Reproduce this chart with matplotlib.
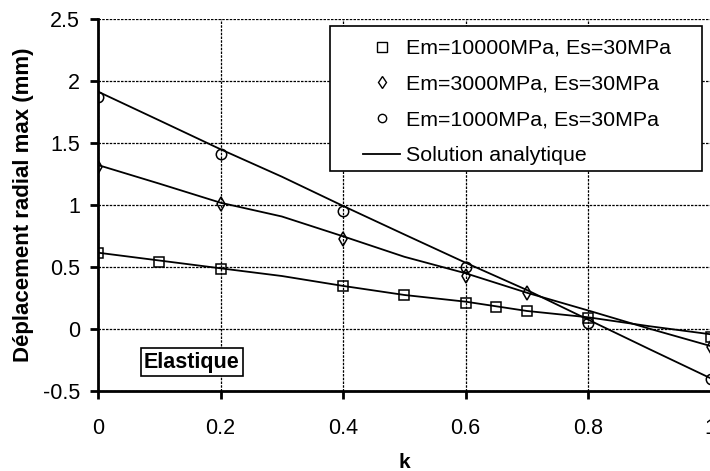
#!/usr/bin/env python3
"""deplacement radial max vs k, cas elastique"""
import matplotlib
matplotlib.use('Agg')
import matplotlib.pyplot as plt
from matplotlib.lines import Line2D
from matplotlib.patches import Rectangle

plt.rcParams['font.family'] = ['Liberation Sans', 'DejaVu Sans']

# points numeriques
k_sq = [0, 0.1, 0.2, 0.4, 0.5, 0.6, 0.65, 0.7, 0.8, 1.0]
u_sq = [0.608, 0.54, 0.479, 0.344, 0.272, 0.21, 0.177, 0.145, 0.084, -0.065]
k_di = [0, 0.2, 0.4, 0.6, 0.7, 1.0]
u_di = [1.306, 1.006, 0.723, 0.427, 0.285, -0.145]
k_ci = [0, 0.2, 0.4, 0.6, 0.8, 1.0]
u_ci = [1.866, 1.406, 0.952, 0.495, 0.043, -0.408]

# solution analytique
k_an = [0, 0.1, 0.2, 0.3, 0.4, 0.5, 0.6, 0.7, 0.8, 0.9, 1.0]
an_sq = [0.613, 0.55, 0.487, 0.425, 0.345, 0.272, 0.218, 0.143, 0.092, 0.02, -0.045]
an_di = [1.32, 1.17, 1.016, 0.905, 0.745, 0.58, 0.447, 0.29, 0.147, 0.0, -0.14]
an_ci = [1.912, 1.68, 1.447, 1.226, 0.99, 0.76, 0.532, 0.312, 0.073, -0.165, -0.40]

labels = ['Em=10000MPa, Es=30MPa', 'Em=3000MPa, Es=30MPa',
          'Em=1000MPa, Es=30MPa', 'Solution analytique']

W, H = 710, 471
fig = plt.figure(figsize=(W/100, H/100), dpi=100)
ax = fig.add_axes([98/W, 1-390.7/H, 612.7/W, (390.7-18.7)/H])

for y in (an_sq, an_di, an_ci):
    ax.plot(k_an, y, color='black', lw=1.3, zorder=3)
mk = dict(linestyle='none', mfc='none', mec='black', mew=1.1, zorder=4)
ax.plot(k_sq, u_sq, marker='s', ms=7.5, **mk)
ax.plot(k_di, u_di, marker='d', ms=7.5, **mk)
ax.plot(k_ci, u_ci, marker='o', ms=7.5, **mk)

ax.set_xlim(0, 1)
ax.set_ylim(-0.5, 2.5)
ax.set_xticks([0, 0.2, 0.4, 0.6, 0.8, 1.0])
ax.set_xticklabels(['0', '0.2', '0.4', '0.6', '0.8', '1'])
ax.set_yticks([-0.5, 0, 0.5, 1, 1.5, 2, 2.5])
ax.set_yticklabels(['-0.5', '0', '0.5', '1', '1.5', '2', '2.5'])
ax.grid(True, color='black', linestyle=(0, (2, 1)), lw=0.9)
ax.set_axisbelow(True)
for s in ('top', 'right'):
    ax.spines[s].set_visible(False)
for s in ('left', 'bottom'):
    ax.spines[s].set_linewidth(2)
ax.tick_params(direction='out', length=6, width=2, labelsize=15.5)
ax.tick_params(axis='y', pad=7)
ax.tick_params(axis='x', pad=14)

ax.set_xlabel('k', fontsize=15, fontweight='bold', labelpad=10)
ax.set_ylabel('Déplacement radial max (mm)', fontsize=16, fontweight='bold', labelpad=6)

ax.text(0.153, -0.27, 'Elastique', fontsize=15.5, fontweight='bold', ha='center', va='center',
        bbox=dict(boxstyle='square,pad=0.15', fc='white', ec='black', lw=1.2), zorder=5)

# cadre de legende
ax.add_patch(Rectangle((330/W, 1-171/H), 372/W, 145/H, transform=fig.transFigure,
                       fc='white', ec='black', lw=1.2, zorder=5, clip_on=False))
handles = [Line2D([], [], marker='s', ls='none', mfc='none', mec='black', ms=6.5),
           Line2D([], [], marker='d', ls='none', mfc='none', mec='black', ms=6.5),
           Line2D([], [], marker='o', ls='none', mfc='none', mec='black', ms=6),
           Line2D([], [], color='black', lw=1.3)]
leg = ax.legend(handles, labels, loc='upper left', bbox_to_anchor=(363/W, 1-39/H),
                bbox_transform=fig.transFigure, borderaxespad=0, borderpad=0,
                fontsize=15.4, frameon=False, handlelength=1.75,
                handletextpad=0.25, labelspacing=0.78)
leg.set_zorder(6)

fig.savefig('out.png', dpi=100)
